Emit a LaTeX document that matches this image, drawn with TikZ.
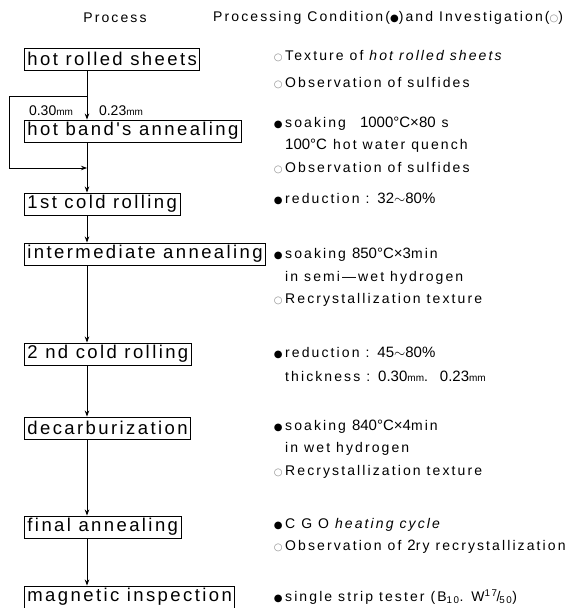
\documentclass[tikz,border=0pt]{standalone}
\usepackage{fontspec}
\setmainfont{Liberation Sans}
\newfontfamily\boxfont[LetterSpace=13]{Liberation Sans}
\newfontfamily\notefont[LetterSpace=15]{Liberation Sans}
\newfontfamily\numfont{Liberation Sans}
\newfontfamily\symfont{DejaVu Sans}
\usetikzlibrary{arrows.meta}

% markers in front of the note lines
\newcommand{\cond}{\llap{{\symfont\fontsize{10}{10}\selectfont ●}\kern2.5pt}}
\newcommand{\inv}{\llap{\textcolor{black!45}{\symfont\fontsize{10}{10}\selectfont ○}\kern2.5pt}}
\newcommand{\unitmm}{{\numfont\fontsize{10}{10}\selectfont mm}}

\begin{document}
\begin{tikzpicture} [
                x=1pt, y=-1pt,
                procbox/.style = {draw, line width=0.9pt, anchor=west, inner xsep=3pt, inner ysep=1pt,
                                  minimum height=22pt, font=\boxfont\fontsize{18.5}{20}\selectfont},
                note/.style = {anchor=west, inner sep=0pt, font=\notefont\fontsize{14}{16}\selectfont},
                head/.style = {inner sep=0pt, font=\notefont\fontsize{14}{15}\selectfont},
                thick label/.style = {inner sep=0pt, font=\numfont\fontsize{14}{15}\selectfont},
                flow/.style = {draw, line width=0.8pt, -{Stealth[length=6pt,width=4.5pt]}}
            ]
            \useasboundingbox (0,0) rectangle (575,608);
            % headings
            \node[head] (hproc) at (115,18) {Process};
            \node[head, anchor=west] (hcond) at (213,18)
                {Processing Condition({\symfont\fontsize{10}{10}\selectfont ●})and Investigation(\textcolor{black!45}{\symfont\fontsize{10}{10}\selectfont ○})};
            % process boxes
            \foreach \y/\name/\txt in {
                59/hot/{hot rolled sheets}, 131/band/{hot band's annealing},
                204/cold1/{1st cold rolling}, 254/inter/{intermediate annealing},
                354/cold2/{2 nd cold rolling}, 428/decarb/{decarburization\ },
                527/final/{final annealing}, 597/magnet/{magnetic inspection}}
                \node[procbox] (\name) at (24,\y) {\txt};
            % the flow line runs left of the box centres
            \coordinate (spine) at (87,0);
            \coordinate (split) at (87,96);
            \coordinate (join) at (87,168);
            \path[flow] (hot.south -| spine) -- (band.north -| spine);
            \foreach \source/\dest in {band/cold1, cold1/inter, inter/cold2,
                                       cold2/decarb, decarb/final, final/magnet}
                \path[flow] (\source.south -| spine) -- (\dest.north -| spine);
            % by-pass of the hot band annealing
            \path[flow] (split) -- ++(-78,0) |- (join);
            \node[thick label] (t30) at (51,111) {0.30\unitmm};
            \node[thick label] (t23) at (121,111) {0.23\unitmm};
            % conditions and investigations
            \foreach \y/\name/\txt in {
                56/tex1/{\inv Texture of \textit{hot rolled sheets}},
                83/obs1/{\inv Observation of sulfides},
                124/soak1/{\cond soaking\quad{\numfont\fontsize{15}{16}\selectfont 1000°C×80} s},
                146/quench/{{\numfont\fontsize{15}{16}\selectfont 100°C} hot water quench},
                168/obs2/{\inv Observation of sulfides},
                199/red1/{\cond reduction : {\numfont\fontsize{15}{16}\selectfont 32$\sim$80\%}},
                255/soak2/{\cond soaking {\numfont\fontsize{15}{16}\selectfont 850°C×3}min},
                278/hyd1/{in semi—wet hydrogen},
                300/rex1/{\inv Recrystallization texture},
                353/red2/{\cond reduction : {\numfont\fontsize{15}{16}\selectfont 45$\sim$80\%}},
                376/thk/{thickness : {\numfont\fontsize{15}{16}\selectfont 0.30}\unitmm.\ \ {\numfont\fontsize{15}{16}\selectfont 0.23}\unitmm},
                427/soak3/{\cond soaking {\numfont\fontsize{15}{16}\selectfont 840°C×4}min},
                449/hyd2/{in wet hydrogen},
                472/rex2/{\inv Recrystallization texture},
                525/cgo/{\cond C G O \textit{heating cycle}},
                547/obs3/{\inv Observation of {\numfont\fontsize{15}{16}\selectfont 2}ry recrystallization},
                597/sst/{\cond single strip tester (B\textsubscript{10}. W\textsuperscript{17}\kern-1pt/\kern-1pt\textsubscript{50})}}
                \node[note] (\name) at (285,\y) {\txt};
        \end{tikzpicture}
\end{document}
